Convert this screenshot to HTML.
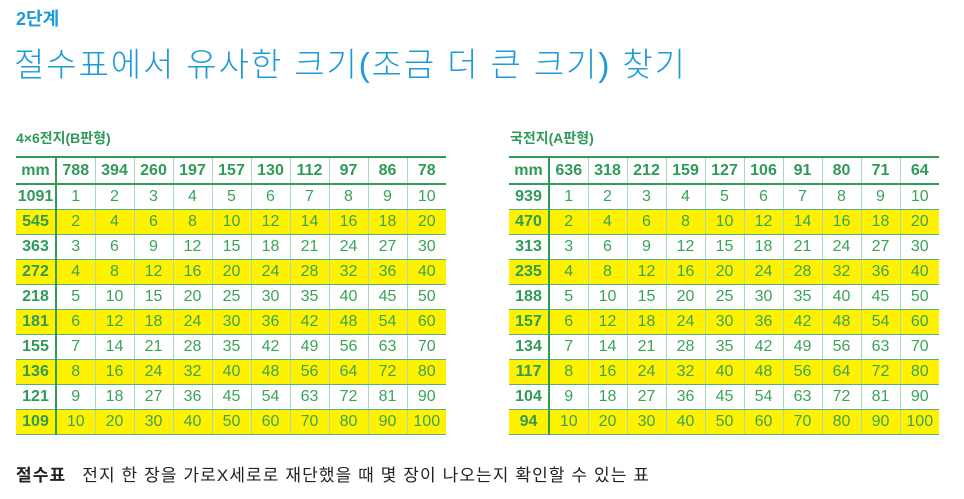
<!DOCTYPE html>
<html><head><meta charset="utf-8"><style>
body{margin:0;width:964px;height:499px;background:#fff;font-family:"Liberation Sans","Noto Sans CJK KR",sans-serif;position:relative;overflow:hidden}
.step{position:absolute;left:16px;top:5px;font-size:18px;font-weight:bold;color:#1e9ad8}
.title{position:absolute;left:14px;top:38px;font-size:33px;color:#1e9ad8;letter-spacing:1.9px;font-weight:300}
.sub{position:absolute;top:128px;font-size:14px;font-weight:bold;color:#2f9a5a}
table{position:absolute;top:156px;border-collapse:collapse;table-layout:fixed;font-size:16px;color:#3aa35a}
td{height:24px;text-align:center;padding:0;border-left:1px solid #a9d9bd;border-bottom:1px solid #55b07a}
tr.h td{height:25px;font-weight:bold;color:#2f9a5a;border-bottom:2px solid #2f9a5a;border-top:2px solid #2f9a5a}
td.k{font-weight:bold;color:#2f9a5a;border-left:none;border-right:2px solid #2f9a5a}
tr.y td{background:#fff200}
.cap{position:absolute;left:16px;top:461px;font-size:17px;color:#222;letter-spacing:1.1px}
.cap b{margin-right:16px}
</style></head><body>
<div class="step">2단계</div>
<div class="title">절수표에서 유사한 크기(조금 더 큰 크기) 찾기</div>
<div class="sub" style="left:16px">4×6전지(B판형)</div>
<div class="sub" style="left:510px">국전지(A판형)</div>
<table id="tb" style="left:16px;width:430px"></table>
<table id="ta" style="left:509px;width:430px"></table>
<div class="cap"><b>절수표</b>전지 한 장을 가로X세로로 재단했을 때 몇 장이 나오는지 확인할 수 있는 표</div>
<script>
const bCols=[788,394,260,197,157,130,112,97,86,78];
const bRows=[1091,545,363,272,218,181,155,136,121,109];
const aCols=[636,318,212,159,127,106,91,80,71,64];
const aRows=[939,470,313,235,188,157,134,117,104,94];
function build(id,cols,rows,name){
  const t=document.getElementById(id);
  const cg=document.createElement('colgroup');
  let c=document.createElement('col');c.style.width='40px';cg.appendChild(c);
  cols.forEach(()=>{const cc=document.createElement('col');cc.style.width='39px';cg.appendChild(cc);});
  t.appendChild(cg);
  const h=document.createElement('tr');h.className='h';
  
  
  const k=document.createElement('td');k.className='k';k.textContent='mm';h.appendChild(k);
  cols.forEach(v=>{const d=document.createElement('td');d.textContent=v;h.appendChild(d);});
  t.appendChild(h);
  rows.forEach((r,i)=>{
    const tr=document.createElement('tr');if(i%2==1)tr.className='y';
    
    
    const kd=document.createElement('td');kd.className='k';kd.textContent=r;tr.appendChild(kd);
    cols.forEach((v,j)=>{const d=document.createElement('td');d.textContent=(i+1)*(j+1);tr.appendChild(d);});
    t.appendChild(tr);
  });
}
build('tb',bCols,bRows,'b-table');
build('ta',aCols,aRows,'a-table');
</script>
</body></html>
